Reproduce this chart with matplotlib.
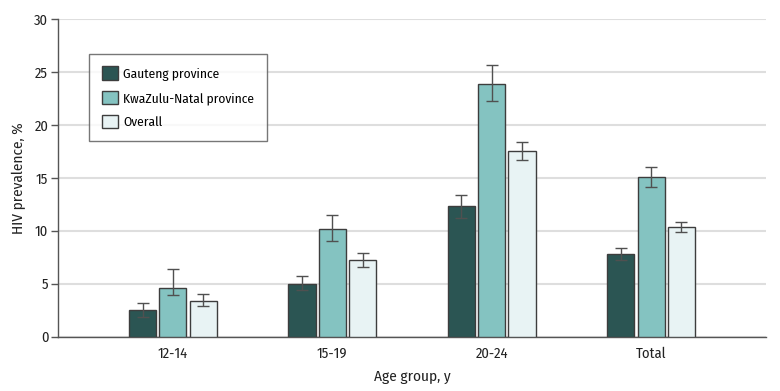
import matplotlib
matplotlib.use("Agg")
import matplotlib.pyplot as plt
import numpy as np
import warnings
warnings.filterwarnings("ignore")

categories = ["12-14", "15-19", "20-24", "Total"]
series_names = ["Gauteng province", "KwaZulu-Natal province", "Overall"]
values = {
    "Gauteng province": [2.5, 5.0, 12.3, 7.8],
    "KwaZulu-Natal province": [4.6, 10.2, 23.9, 15.1],
    "Overall": [3.4, 7.2, 17.5, 10.4],
}
lower = {
    "Gauteng province": [1.9, 4.4, 11.2, 7.2],
    "KwaZulu-Natal province": [3.9, 9.0, 22.3, 14.1],
    "Overall": [2.9, 6.6, 16.7, 9.9],
}
upper = {
    "Gauteng province": [3.2, 5.7, 13.4, 8.4],
    "KwaZulu-Natal province": [6.4, 11.5, 25.7, 16.0],
    "Overall": [4.0, 7.9, 18.4, 10.8],
}
colors = ["#2b5553", "#84c3c1", "#e8f3f4"]
yticks = [0, 5, 10, 15, 20, 25, 30]

plt.rcParams['font.family'] = ['Fira Sans Condensed', 'Lato', 'DejaVu Sans']

fig = plt.figure(figsize=(7.8, 3.91), dpi=100)
ax = fig.add_axes([0.0744, 0.139, 0.9076, 0.812])

x = np.arange(len(categories))
width = 0.17
step = 0.19
for i, name in enumerate(series_names):
    v = np.array(values[name])
    lo = v - np.array(lower[name])
    hi = np.array(upper[name]) - v
    pos = x + (i - 1) * step
    ax.bar(pos, v, width=width, color=colors[i], edgecolor="#3d3d3d",
           linewidth=1.0, label=name, zorder=3)
    ax.errorbar(pos, v, yerr=[lo, hi], fmt="none", ecolor="#505050",
                elinewidth=1.0, capsize=4, capthick=1.0, zorder=4)

ax.set_xlim(-0.72, 3.72)
ax.set_ylim(0, 30)
ax.set_yticks(yticks)
ax.set_xticks(x)
ax.set_xticklabels(categories, fontsize=10.5, color="#222222")
ax.tick_params(axis="x", length=0, pad=7)
ax.tick_params(axis="y", length=5, width=1, color="#555555", labelsize=10.5,
               labelcolor="#222222", pad=2)
ax.yaxis.grid(True, color="#dedede", linewidth=1.5, zorder=0)
ax.set_axisbelow(True)
for s in ["top", "right"]:
    ax.spines[s].set_visible(False)
for s in ["left", "bottom"]:
    ax.spines[s].set_color("#555555")
    ax.spines[s].set_linewidth(1.0)

ax.set_xlabel("Age group, y", fontsize=11, color="#222222", labelpad=7)
ax.set_ylabel("HIV prevalence, %", fontsize=11, color="#222222", labelpad=6)

leg = ax.legend(loc="upper left", bbox_to_anchor=(0.044, 0.891), borderaxespad=0,
                frameon=True, fancybox=False, fontsize=9.6, handlelength=1.2,
                handleheight=1.2, handletextpad=0.4, labelspacing=0.75,
                borderpad=0.95)
leg.get_frame().set_edgecolor("#555555")
leg.get_frame().set_linewidth(1.0)

fig.savefig("out.png", dpi=100)
